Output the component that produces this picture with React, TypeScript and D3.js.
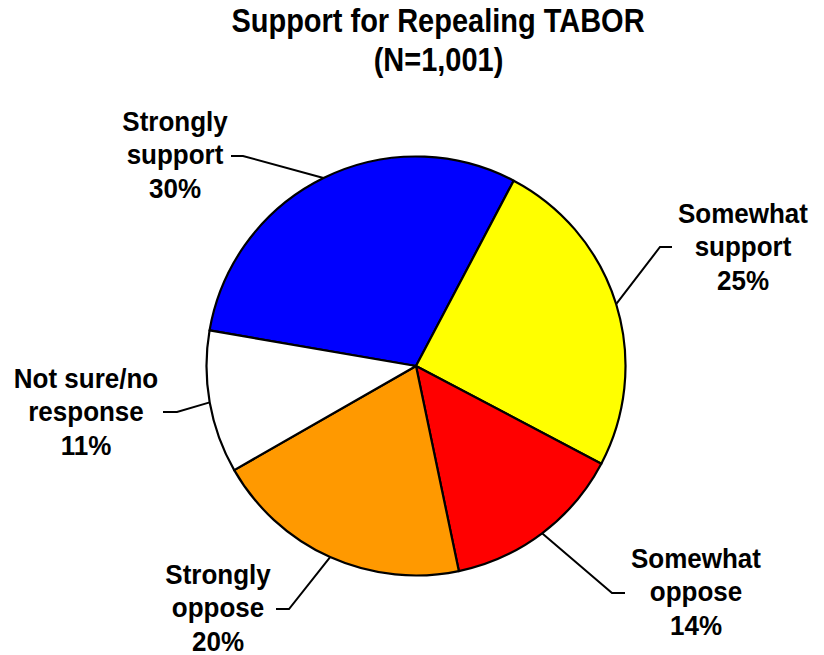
import React from "react";
import * as d3 from "d3";

const categories = ["Strongly support", "Somewhat support", "Somewhat oppose", "Strongly oppose", "Not sure/no response"];
const values = [30, 25, 14, 20, 11];
const labelLines = [
  ["Strongly", "support", "30%"],
  ["Somewhat", "support", "25%"],
  ["Somewhat", "oppose", "14%"],
  ["Strongly", "oppose", "20%"],
  ["Not sure/no", "response", "11%"],
];
const colors = ["#0000FF", "#FFFF00", "#FF0000", "#FF9900", "#FFFFFF"];
const titleLines = ["Support for Repealing TABOR", "(N=1,001)"];

// layout (label block centre x, middle-line baseline y, elbow point, horizontal end x)
const layout = [
  { tx: 175, ty: 164, ex: 243, ey: 156, hx: 231 },
  { tx: 743, ty: 256, ex: 660, ey: 247, hx: 672 },
  { tx: 696, ty: 601, ex: 612, ey: 593, hx: 625 },
  { tx: 218, ty: 617, ex: 289, ey: 609, hx: 276 },
  { tx: 86, ty: 421, ex: 177, ey: 412, hx: 163 },
];

const W = 824, H = 655;
const cx = 416, cy = 366, R = 209.5;
const startDeg = -80.2;

export default function App() {
  const pie = d3.pie<number>().sort(null).value((d) => d)
    .startAngle((startDeg * Math.PI) / 180)
    .endAngle((startDeg * Math.PI) / 180 + 2 * Math.PI);
  const arcs = pie(values);
  const arc = d3.arc<d3.PieArcDatum<number>>().innerRadius(0).outerRadius(R);
  const font = "'Liberation Sans', Arial, sans-serif";
  const lineGap = 33.5;
  const titleY = [31.5, 70.5];
  const titleX = [438, 438.5];
  return (
    <svg width={W} height={H} style={{ position: "absolute", left: 0, top: 0, background: "#fff" }} fontFamily={font}>
      {titleLines.map((t, i) => (
        <text key={t} transform={`translate(${titleX[i]},${titleY[i]}) scale(1,1.12)`} textAnchor="middle" fontSize={29} fontWeight="bold">{t}</text>
      ))}
      <g transform={`translate(${cx},${cy})`}>
        {arcs.map((a, i) => (
          <path key={categories[i]} d={arc(a) || ""} fill={colors[i]} stroke="#000" strokeWidth={2.2} strokeLinejoin="round" />
        ))}
      </g>
      {arcs.map((a, i) => {
        const mid = (a.startAngle + a.endAngle) / 2;
        const px = cx + R * Math.sin(mid);
        const py = cy - R * Math.cos(mid);
        const L = layout[i];
        return (
          <g key={"l" + i}>
            <polyline points={`${px},${py} ${L.ex},${L.ey} ${L.hx},${L.ey}`} fill="none" stroke="#000" strokeWidth={2} />
            {labelLines[i].map((t, j) => (
              <text key={j} transform={`translate(${L.tx},${L.ty + (j - 1) * lineGap}) scale(1,1.05)`} textAnchor="middle" fontSize={26} fontWeight="bold">{t}</text>
            ))}
          </g>
        );
      })}
    </svg>
  );
}
